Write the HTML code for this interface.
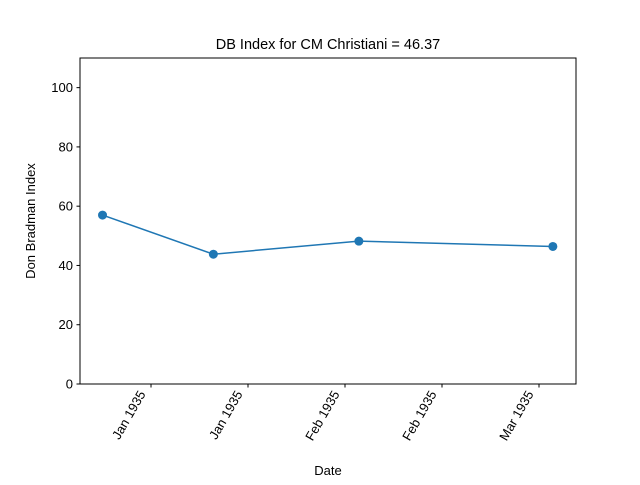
<!DOCTYPE html>
<html><head><meta charset="utf-8"><style>body{margin:0;background:#fff}svg{font-family:"Liberation Sans","DejaVu Sans",sans-serif}</style></head>
<body>
<svg id="chart" width="640" height="480" xmlns="http://www.w3.org/2000/svg">
<rect width="640" height="480" fill="#fff"/>
<text x="328" y="49" font-size="14.5" text-anchor="middle">DB Index for CM Christiani = 46.37</text>
<g id="ax"></g>
<rect x="80" y="58" width="496" height="326" fill="none" stroke="#000" stroke-width="1"/>
<text x="328" y="475" font-size="13" text-anchor="middle">Date</text>
<text transform="translate(35,221) rotate(-90)" font-size="13" text-anchor="middle">Don Bradman Index</text>
</svg>
<script>
const dates = [8, 24, 45, 73]; // day of year 1935
const values = [57.0, 43.8, 48.2, 46.4];
const yTicks = [0, 20, 40, 60, 80, 100];
const xTicks = [15, 29, 43, 57, 71];
const xTickLabels = ["Jan 1935", "Jan 1935", "Feb 1935", "Feb 1935", "Mar 1935"];
const X0=80,X1=576,Y0=384,Y1=58,xmin=4.75,xmax=76.34,ymin=0,ymax=110;
const sx=d=>X0+(d-xmin)/(xmax-xmin)*(X1-X0);
const sy=v=>Y0-(v-ymin)/(ymax-ymin)*(Y0-Y1);
const g=document.getElementById('ax');const NS="http://www.w3.org/2000/svg";
function mk(t,a){const e=document.createElementNS(NS,t);for(const k in a)e.setAttribute(k,a[k]);g.appendChild(e);return e;}
yTicks.forEach(v=>{
 const l=mk('line',{x1:X0-3.5,x2:X0,y1:sy(v),y2:sy(v),stroke:'#000'});
 
 
 const t=mk('text',{x:X0-7,y:sy(v)+4.5,'font-size':13,'text-anchor':'end'});t.textContent=v;
 
 
});
xTicks.forEach((d,i)=>{
 const x=sx(d);
 const l=mk('line',{x1:x,x2:x,y1:Y0,y2:Y0+3.5,stroke:'#000'});
 
 
 const t=mk('text',{transform:`translate(${x-5},${Y0+10}) rotate(-60)`,'font-size':13,'text-anchor':'end'});t.textContent=xTickLabels[i];
 
 
});
const p=mk('polyline',{points:dates.map((d,i)=>sx(d)+','+sy(values[i])).join(' '),fill:'none',stroke:'#1f77b4','stroke-width':1.5});


dates.forEach((d,i)=>{
 const c=mk('circle',{cx:sx(d),cy:sy(values[i]),r:4.5,fill:'#1f77b4'});
 
 
});
</script>
</body></html>
